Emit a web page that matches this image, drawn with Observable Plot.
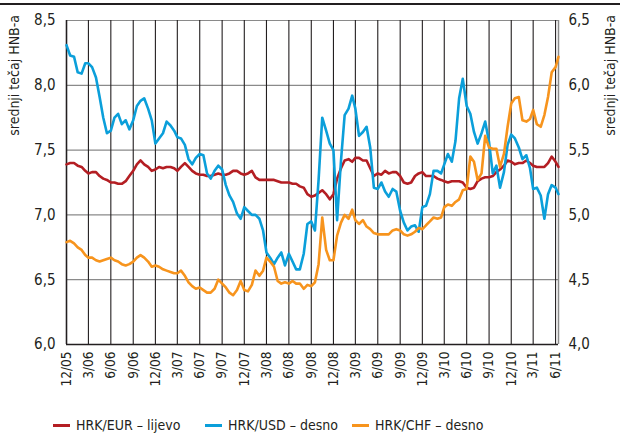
<!DOCTYPE html>
<html>
<head>
<meta charset="utf-8">
<script src="https://cdn.jsdelivr.net/npm/d3@7"></script>
<script src="https://cdn.jsdelivr.net/npm/@observablehq/plot@0.6"></script>
<style>
  html, body { margin: 0; padding: 0; background: #fff; }
  #wrap { position: relative; width: 620px; height: 437px; overflow: hidden; font-family: "DejaVu Sans Condensed", "Liberation Sans Narrow", sans-serif; color: #231f20; }
  #rule { position: absolute; left: 0; top: 3px; width: 620px; height: 1.5px; background: #231f20; }
  #chart { position: absolute; left: 0; top: 0; }
  .ytitle { position: absolute; width: 200px; height: 16px; line-height: 16px; font-size: 14px; text-align: right; white-space: nowrap; transform-origin: 0 0; transform: rotate(-90deg); }
  .leg { position: absolute; top: 415px; height: 20px; display: flex; align-items: center; font-size: 14px; white-space: nowrap; }
  .sw { width: 17px; height: 3px; margin-right: 6px; }
</style>
</head>
<body>
<div id="wrap">
  <div id="chart"></div>
  <div id="rule"></div>
  <div class="ytitle" style="left:6px; top:215px;">srednji tečaj HNB-a</div>
  <div class="ytitle" style="left:602px; top:215px;">srednji tečaj HNB-a</div>
  <div id="legend"></div>
</div>
<script>
const FONT = '"DejaVu Sans Condensed", "Liberation Sans Narrow", sans-serif';

const tickLabels = ["12/05","3/06","6/06","9/06","12/06","3/07","6/07","9/07","12/07","3/08","6/08","9/08","12/08","3/09","6/09","9/09","12/09","3/10","6/10","9/10","12/10","3/11","6/11"];
const yTicks = [6.0, 6.5, 7.0, 7.5, 8.0, 8.5];
const seriesNames = ["HRK/EUR – lijevo", "HRK/USD – desno", "HRK/CHF – desno"];
const seriesColors = ["#b41e23", "#0b9fda", "#f7941d"];

const dates = [
"2005-12-01","2005-12-16",
"2006-01-01","2006-01-16","2006-02-01","2006-02-16","2006-03-01","2006-03-16","2006-04-01","2006-04-16","2006-05-01","2006-05-16","2006-06-01","2006-06-16",
"2006-07-01","2006-07-16","2006-08-01","2006-08-16","2006-09-01","2006-09-16","2006-10-01","2006-10-16","2006-11-01","2006-11-16","2006-12-01","2006-12-16",
"2007-01-01","2007-01-16","2007-02-01","2007-02-16","2007-03-01","2007-03-16","2007-04-01","2007-04-16","2007-05-01","2007-05-16","2007-06-01","2007-06-16",
"2007-07-01","2007-07-16","2007-08-01","2007-08-16","2007-09-01","2007-09-16","2007-10-01","2007-10-16","2007-11-01","2007-11-16","2007-12-01","2007-12-16",
"2008-01-01","2008-01-16","2008-02-01","2008-02-16","2008-03-01","2008-03-16","2008-04-01","2008-04-16","2008-05-01","2008-05-16","2008-06-01","2008-06-16",
"2008-07-01","2008-07-16","2008-08-01","2008-08-16","2008-09-01","2008-09-16","2008-10-01","2008-10-16","2008-11-01","2008-11-16","2008-12-01","2008-12-16",
"2009-01-01","2009-01-16","2009-02-01","2009-02-16","2009-03-01","2009-03-16","2009-04-01","2009-04-16","2009-05-01","2009-05-16","2009-06-01","2009-06-16",
"2009-07-01","2009-07-16","2009-08-01","2009-08-16","2009-09-01","2009-09-16","2009-10-01","2009-10-16","2009-11-01","2009-11-16","2009-12-01","2009-12-16",
"2010-01-01","2010-01-16","2010-02-01","2010-02-16","2010-03-01","2010-03-16","2010-04-01","2010-04-16","2010-05-01","2010-05-16","2010-06-01","2010-06-16",
"2010-07-01","2010-07-16","2010-08-01","2010-08-16","2010-09-01","2010-09-16","2010-10-01","2010-10-16","2010-11-01","2010-11-16","2010-12-01","2010-12-16",
"2011-01-01","2011-01-16","2011-02-01","2011-02-16","2011-03-01","2011-03-16","2011-04-01","2011-04-16","2011-05-01","2011-05-16",
"2011-06-01","2011-06-13"];

const eur = [
7.39,7.40,7.40,7.38,7.37,7.34,7.32,7.33,7.33,7.30,7.28,7.27,
7.25,7.25,7.24,7.24,7.26,7.30,7.34,7.39,7.42,7.39,7.37,7.34,
7.35,7.37,7.36,7.37,7.37,7.36,7.34,7.37,7.40,7.37,7.34,7.32,
7.31,7.31,7.30,7.30,7.31,7.32,7.31,7.31,7.32,7.34,7.34,7.32,
7.31,7.32,7.34,7.29,7.27,7.27,7.27,7.27,7.27,7.26,7.25,7.25,
7.25,7.24,7.24,7.22,7.21,7.16,7.14,7.15,7.17,7.19,7.16,7.12,
7.16,7.28,7.36,7.42,7.43,7.41,7.44,7.44,7.42,7.42,7.36,7.30,
7.32,7.31,7.34,7.32,7.33,7.33,7.30,7.25,7.24,7.25,7.30,7.32,
7.33,7.30,7.30,7.30,7.28,7.27,7.26,7.25,7.26,7.26,7.26,7.25,
7.21,7.20,7.21,7.26,7.28,7.29,7.29,7.30,7.33,7.35,7.38,7.42,
7.41,7.39,7.40,7.40,7.42,7.40,7.38,7.37,7.37,7.37,7.40,7.45,
7.41,7.37];

const usd = [
6.31,6.23,6.22,6.10,6.09,6.17,6.17,6.14,6.06,5.91,5.75,5.63,
5.65,5.75,5.78,5.70,5.73,5.66,5.73,5.84,5.88,5.90,5.82,5.73,
5.55,5.59,5.63,5.72,5.69,5.65,5.60,5.59,5.54,5.43,5.39,5.44,
5.47,5.46,5.32,5.28,5.34,5.38,5.35,5.23,5.15,5.10,5.01,4.97,
5.06,5.03,5.00,5.00,4.97,4.88,4.71,4.67,4.62,4.67,4.71,4.61,
4.70,4.64,4.58,4.58,4.70,4.93,4.95,4.88,5.27,5.75,5.65,5.55,
5.50,4.96,5.42,5.77,5.82,5.92,5.82,5.61,5.64,5.68,5.52,5.21,
5.20,5.25,5.18,5.14,5.20,5.18,5.03,4.94,4.88,4.91,4.92,4.87,
5.06,5.07,5.16,5.34,5.34,5.32,5.39,5.47,5.41,5.57,5.90,6.05,
5.84,5.78,5.64,5.55,5.63,5.72,5.56,5.32,5.38,5.21,5.33,5.54,
5.62,5.59,5.52,5.43,5.46,5.36,5.20,5.21,5.15,4.97,5.16,5.23,
5.21,5.16];

const chf = [
4.79,4.80,4.78,4.75,4.73,4.69,4.67,4.67,4.65,4.64,4.65,4.66,
4.67,4.65,4.64,4.62,4.61,4.62,4.64,4.67,4.69,4.67,4.64,4.60,
4.61,4.60,4.58,4.57,4.56,4.55,4.55,4.57,4.53,4.48,4.45,4.43,
4.44,4.42,4.40,4.40,4.43,4.50,4.47,4.44,4.40,4.38,4.42,4.49,
4.42,4.41,4.46,4.57,4.53,4.57,4.67,4.64,4.60,4.49,4.47,4.48,
4.47,4.49,4.47,4.47,4.43,4.46,4.45,4.48,4.62,4.98,4.73,4.65,
4.65,4.84,4.94,5.00,4.97,5.04,4.96,4.93,4.96,4.91,4.89,4.86,
4.85,4.85,4.85,4.85,4.88,4.89,4.88,4.85,4.84,4.85,4.87,4.90,
4.89,4.92,4.95,4.98,4.97,4.98,5.06,5.08,5.07,5.10,5.12,5.19,
5.20,5.45,5.41,5.27,5.32,5.61,5.52,5.51,5.51,5.37,5.47,5.68,
5.86,5.90,5.91,5.73,5.72,5.74,5.81,5.70,5.68,5.77,5.91,6.10,
6.14,6.22];

const RIGHT_OFFSET = 2; // right axis 4,0–6,5 maps onto left axis 6,0–8,5

const n = Math.min(dates.length, eur.length, usd.length, chf.length);
const data = d3.range(n).map(i => ({date: new Date(dates[i]), eur: eur[i], usd: usd[i], chf: chf[i]}));

const tickDates = tickLabels.map(s => { const [m, y] = s.split("/"); return new Date(Date.UTC(2000 + +y, +m - 1, 1)); });
const labelByTime = new Map(tickDates.map((d, i) => [+d, tickLabels[i]]));
const x0 = new Date(dates[0]);
const x1 = new Date(dates[n - 1]);
const comma = v => v.toFixed(1).replace(".", ",");

const chart = Plot.plot({
  width: 620,
  height: 400,
  marginTop: 20,
  marginLeft: 66,
  marginRight: 62,
  marginBottom: 56,
  style: {fontFamily: FONT, fontSize: "15px", color: "#231f20", background: "transparent", overflow: "visible"},
  x: {type: "utc", domain: [x0, x1]},
  y: {domain: [6, 8.5]},
  marks: [
    Plot.ruleY(yTicks, {stroke: "#8a8a8a", strokeWidth: 1.2}),
    Plot.ruleX(tickDates, {stroke: "#231f20", strokeWidth: 1.1}),
    Plot.ruleX([x0], {stroke: "#231f20", strokeWidth: 1.5}),
    Plot.ruleX([x1], {stroke: "#8a8a8a", strokeWidth: 1.5}),
    Plot.ruleY([6], {stroke: "#231f20", strokeWidth: 1.5}),
    Plot.lineY(data, {x: "date", y: "eur", stroke: seriesColors[0], strokeWidth: 2.6}),
    Plot.lineY(data, {x: "date", y: d => d.usd + RIGHT_OFFSET, stroke: seriesColors[1], strokeWidth: 2.6}),
    Plot.lineY(data, {x: "date", y: d => d.chf + RIGHT_OFFSET, stroke: seriesColors[2], strokeWidth: 2.6}),
    Plot.axisY({anchor: "left", ticks: yTicks, tickFormat: comma, tickSize: 0, tickPadding: 11, fontSize: 15, label: null}),
    Plot.axisY({anchor: "right", ticks: yTicks, tickFormat: v => comma(v - RIGHT_OFFSET), tickSize: 0, tickPadding: 10, fontSize: 15, label: null}),
    Plot.axisX({ticks: tickDates, tickFormat: d => labelByTime.get(+d), tickRotate: -90, tickSize: 0, tickPadding: 7, fontSize: 13.5, label: null})
  ]
});
document.getElementById("chart").appendChild(chart);

const legendPos = [53, 205, 352];
const legend = document.getElementById("legend");
seriesNames.forEach((name, i) => {
  const item = document.createElement("div");
  item.className = "leg";
  item.style.left = legendPos[i] + "px";
  const sw = document.createElement("div");
  sw.className = "sw";
  sw.style.background = seriesColors[i];
  const t = document.createElement("span");
  t.textContent = name;
  item.appendChild(sw);
  item.appendChild(t);
  legend.appendChild(item);
});
</script>
</body>
</html>
